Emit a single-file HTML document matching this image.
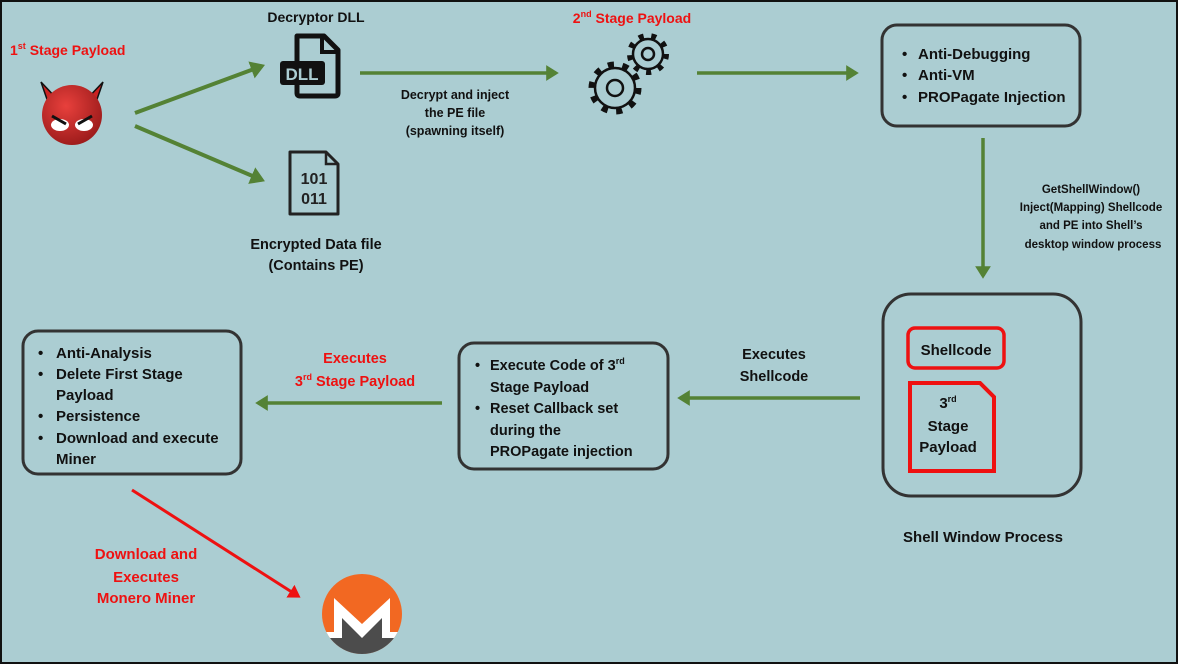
<!DOCTYPE html>
<html><head><meta charset="utf-8"><style>
html,body{margin:0;padding:0;background:#abcdd2;}
svg{display:block;}
text{font-family:"Liberation Sans",sans-serif;font-weight:bold;}
</style></head><body>
<svg width="1178" height="664" viewBox="0 0 1178 664" xmlns="http://www.w3.org/2000/svg">
<defs>
<marker id="g" markerWidth="4.5" markerHeight="4.5" refX="2.8" refY="2.25" orient="auto" markerUnits="strokeWidth"><path d="M0,0 L3.6,2.25 L0,4.5 Z" fill="#548235"/></marker>
<marker id="r" markerWidth="5" markerHeight="5" refX="3" refY="2.5" orient="auto" markerUnits="strokeWidth"><path d="M0,0 L4,2.5 L0,5 Z" fill="#ee1111"/></marker>
<radialGradient id="dv" cx="0.4" cy="0.35" r="0.7"><stop offset="0" stop-color="#e8403c"/><stop offset="1" stop-color="#9a1a1a"/></radialGradient>
</defs>
<rect x="1" y="1" width="1176" height="662" fill="#abcdd2" stroke="#111" stroke-width="2"/>

<!-- 1st stage -->
<text x="10" y="55" font-size="14" fill="#ee1111">1<tspan font-size="9" dy="-6">st</tspan><tspan dy="6"> Stage Payload</tspan></text>
<path d="M41,82 L50,108 L58,100 Z M103,82 L94,108 L86,100 Z" fill="#cc2222" stroke="#111" stroke-width="1.5"/>
<circle cx="72" cy="115" r="30" fill="url(#dv)"/>
<ellipse cx="60" cy="125" rx="9" ry="6" fill="#fff"/><ellipse cx="84" cy="125" rx="9" ry="6" fill="#fff"/>
<path d="M52,116 L66,124 M92,116 L78,124" stroke="#111" stroke-width="3"/>

<line x1="135" y1="113" x2="262" y2="66" stroke="#548235" stroke-width="4" marker-end="url(#g)"/>
<line x1="135" y1="126" x2="262" y2="180" stroke="#548235" stroke-width="4" marker-end="url(#g)"/>

<!-- DLL -->
<text x="316" y="22" font-size="14" text-anchor="middle" fill="#111">Decryptor DLL</text>
<path d="M297,36 L324,36 L338,50 L338,93 Q338,96 335,96 L300,96 Q297,96 297,93 Z" fill="none" stroke="#111" stroke-width="5" stroke-linejoin="round"/>
<path d="M322,36 L322,52 L338,52" fill="none" stroke="#111" stroke-width="4"/>
<rect x="280" y="61" width="45" height="24" rx="3" fill="#111"/>
<text x="302" y="80" font-size="17" text-anchor="middle" fill="#abcdd2">DLL</text>

<!-- Data file -->
<path d="M290,152 L326,152 L338,164 L338,214 L290,214 Z" fill="none" stroke="#222" stroke-width="3" stroke-linejoin="round"/>
<path d="M326,152 L326,164 L338,164" fill="none" stroke="#222" stroke-width="2.5"/>
<text x="314" y="184" font-size="16" text-anchor="middle" fill="#222">101</text>
<text x="314" y="204" font-size="16" text-anchor="middle" fill="#222">011</text>
<text x="316" y="249" font-size="14.5" text-anchor="middle" fill="#111">Encrypted Data file</text>
<text x="316" y="270" font-size="14.5" text-anchor="middle" fill="#111">(Contains PE)</text>

<line x1="360" y1="73" x2="556" y2="73" stroke="#548235" stroke-width="3.5" marker-end="url(#g)"/>
<text x="455" y="99" font-size="12.5" text-anchor="middle" fill="#111">Decrypt and inject</text>
<text x="455" y="117" font-size="12.5" text-anchor="middle" fill="#111">the PE file</text>
<text x="455" y="135" font-size="12.5" text-anchor="middle" fill="#111">(spawning itself)</text>

<!-- 2nd stage -->
<text x="632" y="23" font-size="14" text-anchor="middle" fill="#ee1111">2<tspan font-size="9" dy="-6">nd</tspan><tspan dy="6"> Stage Payload</tspan></text>
<g fill="none" stroke="#111">
<circle cx="615" cy="88" r="23" stroke-width="7" stroke-dasharray="6 8.45"/>
<circle cx="615" cy="88" r="20" fill="#abcdd2" stroke-width="2.5"/>
<circle cx="615" cy="88" r="8" stroke-width="2.5"/>
<circle cx="648" cy="54" r="18" stroke-width="6" stroke-dasharray="5 7.56"/>
<circle cx="648" cy="54" r="15" fill="#abcdd2" stroke-width="2.5"/>
<circle cx="648" cy="54" r="6" stroke-width="2.5"/>
</g>

<line x1="697" y1="73" x2="856" y2="73" stroke="#548235" stroke-width="3.5" marker-end="url(#g)"/>

<!-- Box 1 -->
<rect x="882" y="25" width="198" height="101" rx="15" fill="none" stroke="#333" stroke-width="3"/>
<g font-size="15" fill="#111">
<text x="902" y="59">•</text><text x="918" y="59">Anti-Debugging</text>
<text x="902" y="80">•</text><text x="918" y="80">Anti-VM</text>
<text x="902" y="102">•</text><text x="918" y="102">PROPagate Injection</text>
</g>

<line x1="983" y1="138" x2="983" y2="276" stroke="#548235" stroke-width="3.5" marker-end="url(#g)"/>
<g font-size="11.5" fill="#111" text-anchor="middle">
<text x="1091" y="193">GetShellWindow()</text>
<text x="1091" y="211">Inject(Mapping) Shellcode</text>
<text x="1091" y="229">and PE into Shell’s</text>
<text x="1093" y="248">desktop window process</text>
</g>

<!-- Shell box -->
<rect x="883" y="294" width="198" height="202" rx="28" fill="none" stroke="#333" stroke-width="3"/>
<rect x="908" y="328" width="96" height="40" rx="7" fill="none" stroke="#ee1111" stroke-width="3.5"/>
<text x="956" y="355" font-size="15" text-anchor="middle" fill="#111">Shellcode</text>
<path d="M910,383 L980,383 L994,397 L994,471 L910,471 Z" fill="none" stroke="#ee1111" stroke-width="4"/>
<text x="948" y="408" font-size="15" text-anchor="middle" fill="#111">3<tspan font-size="9" dy="-6">rd</tspan></text>
<text x="948" y="431" font-size="15" text-anchor="middle" fill="#111">Stage</text>
<text x="948" y="452" font-size="15" text-anchor="middle" fill="#111">Payload</text>
<text x="983" y="542" font-size="15" text-anchor="middle" fill="#111">Shell Window Process</text>

<line x1="860" y1="398" x2="680" y2="398" stroke="#548235" stroke-width="3.5" marker-end="url(#g)"/>
<text x="774" y="359" font-size="14.5" text-anchor="middle" fill="#111">Executes</text>
<text x="774" y="381" font-size="14.5" text-anchor="middle" fill="#111">Shellcode</text>

<!-- Mid box -->
<rect x="459" y="343" width="209" height="126" rx="15" fill="none" stroke="#333" stroke-width="3"/>
<g font-size="14.5" fill="#111">
<text x="475" y="370">•</text><text x="490" y="370">Execute Code of 3<tspan font-size="9" dy="-6">rd</tspan></text>
<text x="490" y="392">Stage Payload</text>
<text x="475" y="413">•</text><text x="490" y="413">Reset Callback set</text>
<text x="490" y="435">during the</text>
<text x="490" y="456">PROPagate injection</text>
</g>

<line x1="442" y1="403" x2="258" y2="403" stroke="#548235" stroke-width="3.5" marker-end="url(#g)"/>
<text x="355" y="363" font-size="14.5" text-anchor="middle" fill="#ee1111">Executes</text>
<text x="355" y="386" font-size="14.5" text-anchor="middle" fill="#ee1111">3<tspan font-size="9" dy="-6">rd</tspan><tspan dy="6"> Stage Payload</tspan></text>

<!-- Left box -->
<rect x="23" y="331" width="218" height="143" rx="15" fill="none" stroke="#333" stroke-width="3"/>
<g font-size="15" fill="#111">
<text x="38" y="358">•</text><text x="56" y="358">Anti-Analysis</text>
<text x="38" y="379">•</text><text x="56" y="379">Delete First Stage</text>
<text x="56" y="400">Payload</text>
<text x="38" y="421">•</text><text x="56" y="421">Persistence</text>
<text x="38" y="443">•</text><text x="56" y="443">Download and execute</text>
<text x="56" y="464">Miner</text>
</g>

<line x1="132" y1="490" x2="298" y2="596" stroke="#ee1111" stroke-width="3" marker-end="url(#r)"/>
<g font-size="15" fill="#ee1111" text-anchor="middle">
<text x="146" y="559">Download and</text>
<text x="146" y="582">Executes</text>
<text x="146" y="603">Monero Miner</text>
</g>

<!-- Monero -->
<clipPath id="mc"><circle cx="362" cy="614" r="40"/></clipPath>
<g clip-path="url(#mc)">
<rect x="320" y="572" width="84" height="84" fill="#f26822"/>
<path d="M320,632 L334,632 L334,598 L362,624 L390,598 L390,632 L404,632 L404,660 L320,660 Z" fill="#fff"/>
<path d="M320,638 L342,638 L342,618 L362,638 L382,618 L382,638 L404,638 L404,660 L320,660 Z" fill="#4c4c4c"/>
</g>
</svg>
</body></html>
